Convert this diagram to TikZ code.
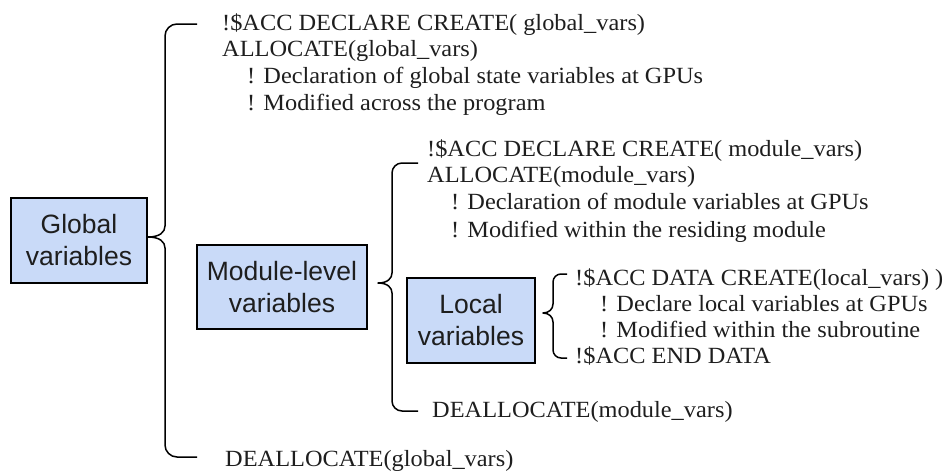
\documentclass[tikz,border=0pt]{standalone}
\usepackage{fontspec}
\setmainfont{Liberation Serif}[FakeStretch=1.05]
\newfontfamily\boxfont{Liberation Sans}
\definecolor{boxfill}{HTML}{C9DAF8}
\definecolor{ink}{HTML}{1E1E1E}
\tikzset{
  varbox/.style={draw=black, line width=1.3pt, fill=boxfill, inner sep=0pt, align=center,
    font=\boxfont\fontsize{26.5}{32}\selectfont, text=ink},
  txt/.style={anchor=base west, inner sep=0pt, font=\fontsize{23.2}{27}\selectfont, text=ink},
  bracepath/.style={draw=black, line width=1.5pt, line join=round}
}
\begin{document}
\begin{tikzpicture}[x=1pt,y=-1pt]
\useasboundingbox (0,0) rectangle (952,471);
% boxes
\node[varbox, minimum width=136pt, minimum height=85pt] (gbox) at (79,240.5) {Global\\variables};
\node[varbox, minimum width=170pt, minimum height=84pt] (mbox) at (282,287) {Module-level\\variables};
\node[varbox, minimum width=128pt, minimum height=85pt] (lbox) at (471,320.5) {Local\\variables};
% global text
\node[txt] (g1) at (222,30) {!\$ACC DECLARE CREATE( global\_vars)};
\node[txt] (g2) at (222,56.7) {ALLOCATE(global\_vars)};
\node[txt] (g3) at (247,83.4) {! Declaration of global state variables at GPUs};
\node[txt] (g4) at (247,110) {! Modified across the program};
\node[txt] (g5) at (225,466) {DEALLOCATE(global\_vars)};
% module text
\node[txt] (m1) at (427,156) {!\$ACC DECLARE CREATE( module\_vars)};
\node[txt] (m2) at (427,182.5) {ALLOCATE(module\_vars)};
\node[txt] (m3) at (451,209.5) {! Declaration of module variables at GPUs};
\node[txt] (m4) at (451,237) {! Modified within the residing module};
\node[txt] (m5) at (432,417) {DEALLOCATE(module\_vars)};
% local text
\node[txt] (l1) at (575,285) {!\$ACC DATA CREATE(local\_vars) )};
\node[txt] (l2) at (600,311.5) {! Declare local variables at GPUs};
\node[txt] (l3) at (600,337.5) {! Modified within the subroutine};
\node[txt] (l4) at (575,363) {!\$ACC END DATA};
% brace end points
\coordinate (gtop) at (197,24);
\coordinate (gtip) at (148,237);
\coordinate (gbot) at (197,457);
\coordinate (mtop) at (418,163);
\coordinate (mtip) at (378,283);
\coordinate (mbot) at (418,411);
\coordinate (ltop) at (567,274);
\coordinate (ltip) at (543,313);
\coordinate (lbot) at (567,358);
% braces
\draw[bracepath] (gtop) -- (177,24) .. controls (170.4,24) and (165,29.4) .. (165,36)
  -- (165,226) .. controls (165,232) and (160,237) .. (gtip)
  .. controls (160,237) and (165,242) .. (165,248)
  -- (165,445) .. controls (165,451.6) and (170.4,457) .. (177,457) -- (gbot);
\draw[bracepath] (mtop) -- (402,163) .. controls (396.5,163) and (392,167.5) .. (392,173)
  -- (392,273) .. controls (392,278) and (388,283) .. (mtip)
  .. controls (388,283) and (392,288) .. (392,293)
  -- (392,401) .. controls (392,406.5) and (396.5,411) .. (402,411) -- (mbot);
\draw[bracepath] (ltop) -- (561,274) .. controls (556.6,274) and (553,277.6) .. (553,282)
  -- (553,304) .. controls (553,309) and (549,313) .. (ltip)
  .. controls (549,313) and (553,317) .. (553,322)
  -- (553,350) .. controls (553,354.4) and (556.6,358) .. (561,358) -- (lbot);
\end{tikzpicture}
\end{document}
